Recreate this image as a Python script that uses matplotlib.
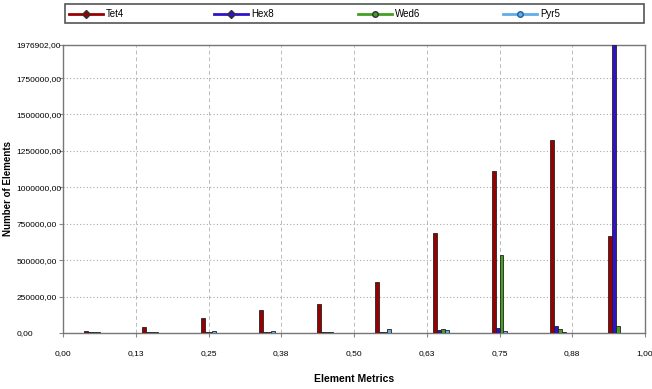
import matplotlib
matplotlib.use("Agg")
import matplotlib.pyplot as plt
from matplotlib.patches import Rectangle
from matplotlib.lines import Line2D
import numpy as np

plt.rcParams['font.family'] = ['Liberation Sans', 'DejaVu Sans']

bins = [0.05, 0.15, 0.25, 0.35, 0.45, 0.55, 0.65, 0.75, 0.85, 0.95]
series_names = ["Tet4", "Hex8", "Wed6", "Pyr5"]
tet4 = [15000, 43000, 105000, 160000, 199000, 348000, 684000, 1112000, 1325000, 668000]
hex8 = [8000, 9000, 6000, 6000, 6000, 6000, 20000, 32000, 50000, 1976902]
wed6 = [7000, 6000, 4000, 5000, 6000, 5000, 28000, 535000, 27000, 50000]
pyr5 = [7000, 9000, 12000, 12000, 9000, 25000, 22000, 12000, 10000, 3000]
colors = ["#990000", "#3311CC", "#44A022", "#5FAEE8"]

ymax = 1976902
yticks = [0, 250000, 500000, 750000, 1000000, 1250000, 1500000, 1750000, 1976902]
ytick_labels = ["0,00", "250000,00", "500000,00", "750000,00", "1000000,00",
                "1250000,00", "1500000,00", "1750000,00", "1976902,00"]
xticks = [0, 0.125, 0.25, 0.375, 0.5, 0.625, 0.75, 0.875, 1.0]
xtick_labels = ["0,00", "0,13", "0,25", "0,38", "0,50", "0,63", "0,75", "0,88", "1,00"]

W, H = 652, 389
fig = plt.figure(figsize=(W / 100, H / 100), dpi=100)
ax = fig.add_axes([63 / W, 1 - 333 / H, (645 - 63) / W, (333 - 45) / H])

w = 0.0068
offsets = [-1.5 * w, -0.5 * w, 0.5 * w, 1.5 * w]
x = np.array(bins)
for vals, off, c in zip([tet4, hex8, wed6, pyr5], offsets, colors):
    ax.bar(x + off, vals, width=w, color=c, edgecolor="#222222", linewidth=0.6, zorder=3)

ax.set_xlim(0, 1)
ax.set_ylim(0, ymax)
ax.set_xticks(xticks)
ax.set_xticklabels(xtick_labels)
ax.set_yticks(yticks)
ax.set_yticklabels(ytick_labels)
ax.tick_params(labelsize=6, length=3, color="#888888")
ax.tick_params(axis="x", pad=9)
ax.tick_params(axis="y", pad=30.5)
for lbl in ax.get_yticklabels():
    lbl.set_horizontalalignment("left")
ax.xaxis.grid(True, linestyle=(0, (4, 3)), color="#BBBBBB", linewidth=0.7, zorder=0)
ax.yaxis.grid(True, linestyle=(0, (1, 2)), color="#AAAAAA", linewidth=0.8, zorder=0)
for s in ax.spines.values():
    s.set_color("#777777")
    s.set_linewidth(1.0)

fig.text(8.5 / W, 1 - 189 / H, "Number of Elements", rotation=90, fontsize=7,
         fontweight="bold", ha="center", va="center")
fig.text(354 / W, 1 - 379 / H, "Element Metrics", fontsize=7.5,
         fontweight="bold", ha="center", va="center")

# legend box
fig.add_artist(Rectangle((65 / W, 1 - 23 / H), (644 - 65) / W, 19 / H,
                         transform=fig.transFigure, facecolor="white",
                         edgecolor="#555555", linewidth=1.2))
markers = ["D", "D", "o", "o"]
starts = [69, 214, 358, 503]
ly = 1 - 14 / H
for c, m, name, x0 in zip(colors, markers, series_names, starts):
    mfc = "#5FAEE8" if name == "Pyr5" else c
    fig.add_artist(Line2D([x0 / W, (x0 + 34) / W], [ly, ly], transform=fig.transFigure,
                          color=c, linewidth=2))
    fig.add_artist(Line2D([(x0 + 17) / W], [ly], transform=fig.transFigure,
                          marker=m, markersize=4, markerfacecolor=mfc,
                          markeredgecolor="#333333" if name != "Pyr5" else "#1F5FA0",
                          linestyle="none"))
    fig.text((x0 + 37) / W, ly, name, fontsize=7, ha="left", va="center")

fig.savefig("out.png", dpi=100)
